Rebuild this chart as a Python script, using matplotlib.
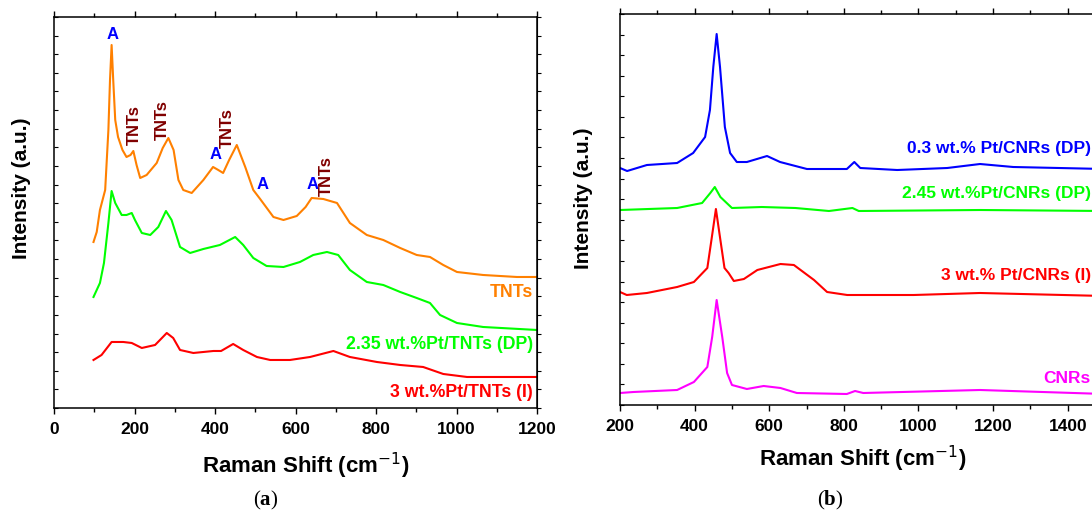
import matplotlib
matplotlib.use("Agg")
import matplotlib.pyplot as plt
from matplotlib.ticker import MultipleLocator, NullFormatter

plt.rcParams['font.family'] = ['Liberation Sans', 'DejaVu Sans']
plt.rcParams['mathtext.fontset'] = 'custom'
plt.rcParams['mathtext.bf'] = 'Liberation Serif:bold'
plt.rcParams['mathtext.rm'] = 'Liberation Serif'

# ---- panel (a): Pt/TNTs spectra (offset, arbitrary units) ----
tnt_x = [98, 106, 114, 127, 135, 139, 143, 147, 152, 159, 170, 180, 190, 197, 205, 214,
         230, 255, 270, 284, 297, 309, 321, 342, 371, 395, 408, 420, 435, 454, 475, 495,
         512, 545, 570, 603, 625, 640, 669, 703, 735, 777, 818, 860, 901, 934, 967, 1001,
         1066, 1150, 1200]
tnt_y = [166, 176, 198, 218, 278, 328, 363, 328, 288, 271, 258, 251, 253, 257, 243, 230,
         233, 245, 260, 270, 258, 228, 218, 215, 228, 241, 238, 235, 248, 263, 241, 218,
         209, 191, 188, 192, 201, 210, 209, 205, 185, 173, 168, 160, 153, 151, 143, 136,
         133, 131, 131]

dp_x = [98, 114, 124, 135, 143, 152, 168, 180, 193, 201, 218, 239, 259, 278, 292, 313,
        338, 371, 412, 450, 470, 495, 528, 570, 611, 644, 678, 706, 735, 777, 818, 860,
        901, 934, 959, 1001, 1066, 1200]
dp_y = [111, 125, 145, 185, 217, 205, 193, 193, 195, 188, 175, 173, 181, 197, 188, 161,
        155, 159, 163, 171, 163, 150, 142, 141, 146, 153, 156, 153, 138, 126, 123, 116,
        110, 105, 93, 85, 81, 78]

imp_x = [98, 118, 143, 172, 193, 218, 251, 268, 280, 296, 313, 346, 396, 415, 445, 470,
         504, 537, 586, 636, 694, 735, 802, 860, 917, 967, 1026, 1200]
imp_y = [48, 53, 66, 66, 65, 60, 63, 70, 75, 70, 58, 55, 57, 57, 64, 58,
         51, 48, 48, 51, 57, 51, 46, 43, 41, 34, 31, 31]

a_names = ["TNTs", "2.35 wt.%Pt/TNTs (DP)", "3 wt.%Pt/TNTs (I)"]
a_label_y = [115, 63, 15]
anatase_pos = [(146, 373), (402, 253), (519, 223), (643, 223)]
tnt_mark_pos = [(199, 283), (268, 288), (430, 280), (676, 232)]

# ---- panel (b): Pt/CNRs spectra ----
cnr03_x = [200, 219, 272, 353, 396, 428, 441, 450, 459, 468, 481, 495, 513, 540, 594,
           629, 701, 808, 828, 844, 943, 1077, 1165, 1254, 1500]
cnr03_y = [237, 234, 240, 242, 252, 268, 295, 338, 371, 338, 278, 252, 243, 243, 249,
           243, 236, 236, 243, 237, 235, 237, 241, 238, 236]

cnr245_x = [200, 353, 420, 442, 454, 469, 500, 580, 670, 760, 823, 840, 1165, 1500]
cnr245_y = [195, 197, 202, 212, 218, 208, 197, 198, 197, 194, 197, 194, 195, 194]

cnr3_x = [200, 218, 272, 353, 398, 434, 445, 457, 469, 480, 491, 505, 532, 568, 630,
          666, 720, 755, 809, 987, 1165, 1500]
cnr3_y = [113, 110, 112, 118, 123, 137, 165, 196, 165, 137, 132, 124, 126, 135, 141,
          140, 125, 113, 110, 110, 112, 109]

cnr_x = [200, 236, 353, 398, 434, 447, 459, 474, 487, 500, 540, 585, 630, 674, 808,
         830, 852, 1165, 1500]
cnr_y = [12, 13, 15, 23, 38, 68, 105, 68, 32, 20, 16, 19, 17, 12, 11, 14, 12, 15, 11]

b_names = ["0.3 wt.% Pt/CNRs (DP)", "2.45 wt.%Pt/CNRs (DP)", "3 wt.% Pt/CNRs (I)", "CNRs"]
b_label_y = [257, 212, 129, 26]

orange, green, red, blue, magenta = '#FF8000', '#00FF00', '#FF0000', '#0000FF', '#FF00FF'

fig = plt.figure(figsize=(10.92, 5.15), dpi=100)
ax1 = fig.add_axes([0.0495, 0.2078, 0.4423, 0.7592])
ax2 = fig.add_axes([0.5678, 0.2136, 0.4441, 0.7592])


def style(ax, xlim, nticks):
    ax.set_xlim(*xlim)
    ax.set_ylim(0, 391)
    ax.xaxis.set_major_locator(MultipleLocator(200))
    ax.xaxis.set_minor_locator(MultipleLocator(100))
    ax.yaxis.set_major_locator(MultipleLocator(391 / nticks))
    ax.yaxis.set_major_formatter(NullFormatter())
    ax.tick_params(axis='x', which='both', direction='out', top=True, labelsize=12.5,
                   length=4, width=1, pad=6)
    ax.tick_params(axis='x', which='minor', length=3)
    ax.tick_params(axis='y', direction='in', left=True, right=False, length=3, width=0.8)
    for lbl in ax.get_xticklabels():
        lbl.set_fontweight('bold')
    for s in ax.spines.values():
        s.set_linewidth(1.1)
    ax.set_xlabel('Raman Shift (cm$^{\\mathsf{-1}}$)', fontsize=16, fontweight='bold')
    ax.set_ylabel('Intensity (a.u.)', fontsize=15, fontweight='bold')


# panel (a)
ax1.plot(tnt_x, tnt_y, color=orange, lw=1.5)
ax1.plot(dp_x, dp_y, color=green, lw=1.5)
ax1.plot(imp_x, imp_y, color=red, lw=1.5)
style(ax1, (0, 1200), 21)
ax1.yaxis.set_label_coords(-0.048, 0.563)
ax1.xaxis.set_label_coords(0.522, -0.110)
# outward ticks on the right edge
sec = ax1.secondary_yaxis('right')
sec.yaxis.set_major_locator(MultipleLocator(391 / 21))
sec.yaxis.set_major_formatter(NullFormatter())
sec.tick_params(direction='out', length=3, width=0.8)
for name, y, c in zip(a_names, a_label_y, [orange, green, red]):
    ax1.text(1190, y, name, color=c, fontsize=12.8, fontweight='bold',
             ha='right', va='center')
for x, y in anatase_pos:
    ax1.text(x, y, 'A', color=blue, fontsize=12, fontweight='bold', ha='center', va='center')
for x, y in tnt_mark_pos:
    ax1.text(x, y, 'TNTs', color='#800000', fontsize=12, fontweight='bold',
             rotation=90, ha='center', va='center')

# panel (b)
ax2.plot(cnr03_x, cnr03_y, color=blue, lw=1.5)
ax2.plot(cnr245_x, cnr245_y, color=green, lw=1.5)
ax2.plot(cnr3_x, cnr3_y, color=red, lw=1.5)
ax2.plot(cnr_x, cnr_y, color=magenta, lw=1.5)
style(ax2, (200, 1500), 19)
ax2.set_xticks([200, 400, 600, 800, 1000, 1200, 1400])
ax2.yaxis.set_label_coords(-0.056, 0.53)
ax2.xaxis.set_label_coords(0.501, -0.100)
for name, y, c in zip(b_names, b_label_y, [blue, green, red, magenta]):
    ax2.text(1462, y, name, color=c, fontsize=12.5, fontweight='bold',
             ha='right', va='center', clip_on=False)

fig.text(0.243, 0.028, r'($\mathbf{a}$)', fontsize=15, ha='center', va='center',
         family='Liberation Serif', math_fontfamily='custom')
fig.text(0.760, 0.028, r'($\mathbf{b}$)', fontsize=15, ha='center', va='center',
         family='Liberation Serif', math_fontfamily='custom')

fig.savefig('out.png', dpi=100)
